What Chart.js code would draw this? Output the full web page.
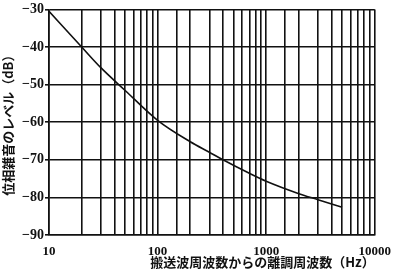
<!DOCTYPE html>
<html>
<head>
<meta charset="utf-8">
<script src="https://cdn.jsdelivr.net/npm/chart.js@4"></script>
<style>
  html, body { margin: 0; padding: 0; background: #fff; }
  #wrap { width: 400px; height: 270px; }
</style>
</head>
<body>
<div id="wrap"><canvas id="noiseChart" width="400" height="270"></canvas></div>
<script>
// Phase noise vs offset frequency
const freqs = [10, 20, 30, 50, 100, 200, 300, 400, 700, 1000, 2000, 3000, 5000];
const levels = [-30.5, -40, -45.5, -51.5, -59.5, -65.2, -68, -70, -73.6, -75.7, -79, -80.6, -82.6];
const xTickLabels = [10, 100, 1000, 10000];

const ink = '#111';
const serif = '"Liberation Serif", "DejaVu Serif", serif';
const cjk = '"Noto Sans CJK JP", sans-serif';

const ctx = document.getElementById('noiseChart').getContext('2d');
new Chart(ctx, {
  type: 'line',
  data: {
    datasets: [{
      data: freqs.map((f, i) => ({ x: f, y: levels[i] })),
      borderColor: ink,
      borderWidth: 1.6,
      pointRadius: 0,
      cubicInterpolationMode: 'monotone',
      fill: false
    }]
  },
  options: {
    responsive: false,
    animation: false,
    layout: { padding: { left: 0, right: 15, top: 9, bottom: 0 } },
    scales: {
      x: {
        type: 'logarithmic',
        min: 10,
        max: 10000,
        afterFit: (s) => { s.height = 35; },
        grid: { color: ink, lineWidth: 1.6, drawTicks: false },
        border: { color: ink, width: 1.6 },
        ticks: {
          autoSkip: false,
          maxRotation: 0,
          padding: 9,
          color: ink,
          font: { family: serif, size: 13, weight: 'bold' },
          callback: (v) => xTickLabels.includes(v) ? String(v) : ''
        },
        title: {
          display: true,
          align: 'end',
          text: '搬送波周波数からの離調周波数（Hz）',
          color: ink,
          padding: { top: 0, bottom: 0 },
          font: { family: cjk, size: 13, weight: 'bold' }
        }
      },
      y: {
        min: -90,
        max: -30,
        afterFit: (s) => { s.width = 49; },
        grid: { color: ink, lineWidth: 1.6, tickLength: 4 },
        border: { color: ink, width: 1.6 },
        ticks: {
          stepSize: 10,
          padding: 1,
          color: ink,
          font: { family: serif, size: 14, weight: 'bold' },
          callback: (v) => '\u2212' + Math.abs(v)
        },
        title: {
          display: true,
          text: '位相雑音のレベル（dB）',
          color: ink,
          padding: { top: 0, bottom: 0 },
          font: { family: cjk, size: 13, weight: 'bold' }
        }
      }
    },
    plugins: {
      legend: { display: false },
      tooltip: { enabled: false }
    }
  }
});
</script>
</body>
</html>
